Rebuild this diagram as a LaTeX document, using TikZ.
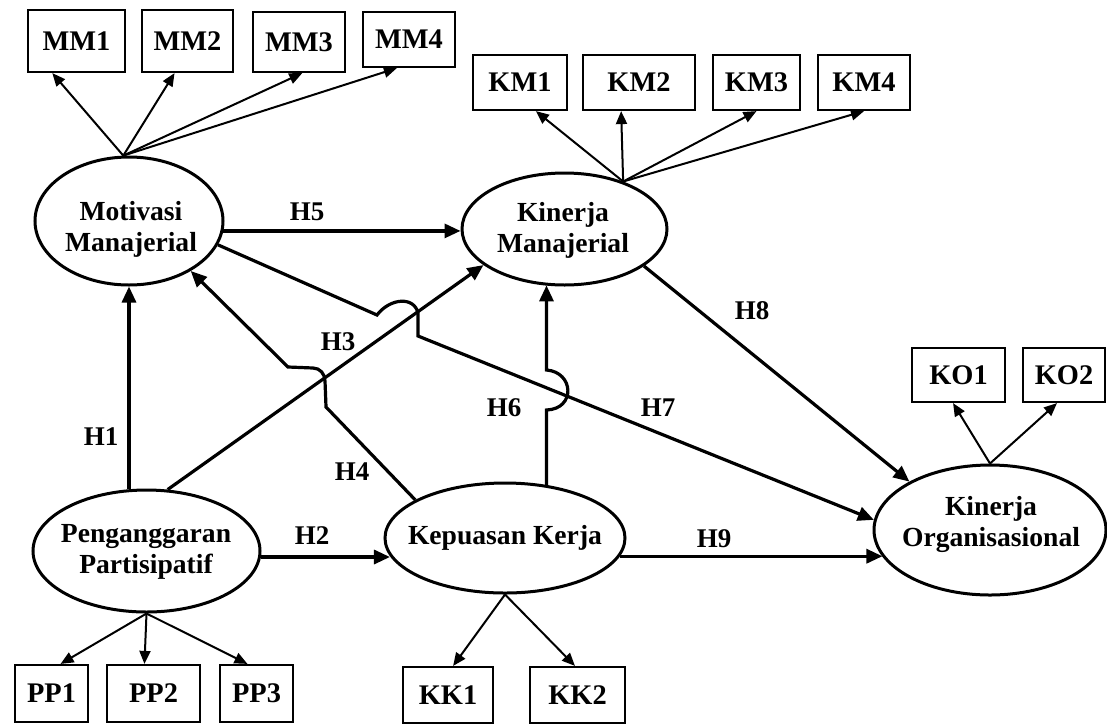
\documentclass[tikz,border=0pt]{standalone}
\usepackage{fontspec}
\setmainfont{Liberation Serif}
\usetikzlibrary{shapes.geometric,arrows.meta}
\begin{document}
\begin{tikzpicture}[x=0.5pt,y=-0.5pt,
  lat/.style={draw,ellipse,line width=1.5pt,inner sep=0pt},
  lattext/.style={align=center,inner sep=0pt,font=\fontsize{13.8}{15.5}\selectfont\bfseries},
  ind/.style={draw,line width=1.1pt,inner sep=0pt,font=\fontsize{14.2}{16}\selectfont\bfseries},
  struct/.style={line width=1.6pt,-{Triangle[length=8pt,width=7pt]}},
  load/.style={line width=1pt,-{Triangle[length=6.5pt,width=5.5pt]}},
  hyp/.style={inner sep=0pt,font=\fontsize{13.5}{15}\selectfont\bfseries}]
\useasboundingbox (0,0) rectangle (1107,723);
\fill[white] (0,0) rectangle (1107,723);

% latent constructs
\node[lat,minimum width=94pt,minimum height=64pt] (mm) at (129,221) {};
\node[lattext] (mmt) at (131,229) {Motivasi\\Manajerial};
\node[lat,minimum width=102.5pt,minimum height=56pt] (km) at (564.5,229) {};
\node[lattext] (kmt) at (563,230) {Kinerja\\Manajerial};
\node[lat,minimum width=113.5pt,minimum height=61pt] (pp) at (146.5,551) {};
\node[lattext] (ppt) at (146,552) {Penganggaran\\Partisipatif};
\node[lat,minimum width=120pt,minimum height=55pt] (kk) at (505,538) {};
\node[lattext] (kkt) at (505,538) {Kepuasan Kerja};
\node[lat,minimum width=116pt,minimum height=65pt] (ko) at (990,530) {};
\node[lattext] (kot) at (991,524) {Kinerja\\Organisasional};

% indicator boxes
\node[ind,minimum width=48.5pt,minimum height=31pt] (mm1) at (76.5,41) {MM1};
\node[ind,minimum width=45.5pt,minimum height=31pt] (mm2) at (187.5,41) {MM2};
\node[ind,minimum width=46pt,minimum height=30pt] (mm3) at (299,42) {MM3};
\node[ind,minimum width=46pt,minimum height=27.5pt] (mm4) at (409,39.5) {MM4};

\node[ind,minimum width=47pt,minimum height=27.5pt] (km1) at (520,82.5) {KM1};
\node[ind,minimum width=56pt,minimum height=27.5pt] (km2) at (639,82.5) {KM2};
\node[ind,minimum width=43.5pt,minimum height=27.5pt] (km3) at (756.5,82.5) {KM3};
\node[ind,minimum width=46pt,minimum height=27.5pt] (km4) at (864,82.5) {KM4};

\node[ind,minimum width=46.5pt,minimum height=27pt] (ko1) at (958.5,375) {KO1};
\node[ind,minimum width=41pt,minimum height=27pt] (ko2) at (1064,375) {KO2};

\node[ind,minimum width=36.5pt,minimum height=28.5pt] (pp1) at (51.5,693.5) {PP1};
\node[ind,minimum width=46.5pt,minimum height=28.5pt] (pp2) at (153.5,693.5) {PP2};
\node[ind,minimum width=36.5pt,minimum height=28.5pt] (pp3) at (256.5,693.5) {PP3};

\node[ind,minimum width=45pt,minimum height=28pt] (kk1) at (448,695) {KK1};
\node[ind,minimum width=47.5pt,minimum height=28pt] (kk2) at (577.5,695) {KK2};

% loadings
\foreach \b/\a in {mm1/-127,mm2/-112,mm3/-84,mm4/-113}
  \draw[load] (mm.95) -- (\b.\a);
\foreach \b/\a in {km1/-61,km2/-122,km3/south,km4/south}
  \draw[load] (km.39) -- (\b.\a);
\foreach \b/\a in {ko1/-101,ko2/-104}
  \draw[load] (ko.north) -- (\b.\a);
\foreach \b/\a in {pp1/73,pp2/107,pp3/107}
  \draw[load] (pp.south) -- (\b.\a);
\foreach \b/\a in {kk1/80,kk2/95}
  \draw[load] (kk.south) -- (\b.\a);

% structural paths with line jumps
\coordinate (h6lo) at (545,410);
\coordinate (h6hi) at (545,370);
\draw[struct] (pp.north -| mm.south) -- (mm.south);                 % H1
\draw[struct] (pp.-3) -- (pp.-3 -| kk.189);                          % H2
\draw[struct] (pp.71) -- (km.204);                                   % H3
\draw[struct] (kk.157) -- (326,407) -- (325,381)
  .. controls (325,374) and (320,368) .. (313,368) -- (288,367) -- (mm.-39); % H4
\draw[struct] (mm.-6) -- (mm.-6 -| km.west);                         % H5
\draw[struct] (kk.52) -- (kk.52 |- h6lo)
  .. controls (576,409) and (574,372) .. (kk.52 |- h6hi) -- (kk.52 |- km.-110); % H6
\draw[struct] (mm.-15) -- (377,315)
  .. controls (390,298) and (414,296) .. (418,313) -- (418,336) -- (ko.175); % H7
\draw[struct] (km.-25) -- (ko.149);                                  % H8
\draw[struct] (kk.-9) -- (kk.-9 -| ko.194);                          % H9

% hypothesis labels
\node[hyp] (l1) at (101,437) {H1};
\node[hyp] (l2) at (312,536) {H2};
\node[hyp] (l3) at (338,342) {H3};
\node[hyp] (l4) at (352,472) {H4};
\node[hyp] (l5) at (307,212) {H5};
\node[hyp] (l6) at (504,408) {H6};
\node[hyp] (l7) at (658,408) {H7};
\node[hyp] (l8) at (752,311) {H8};
\node[hyp] (l9) at (714,539) {H9};
\end{tikzpicture}
\end{document}
